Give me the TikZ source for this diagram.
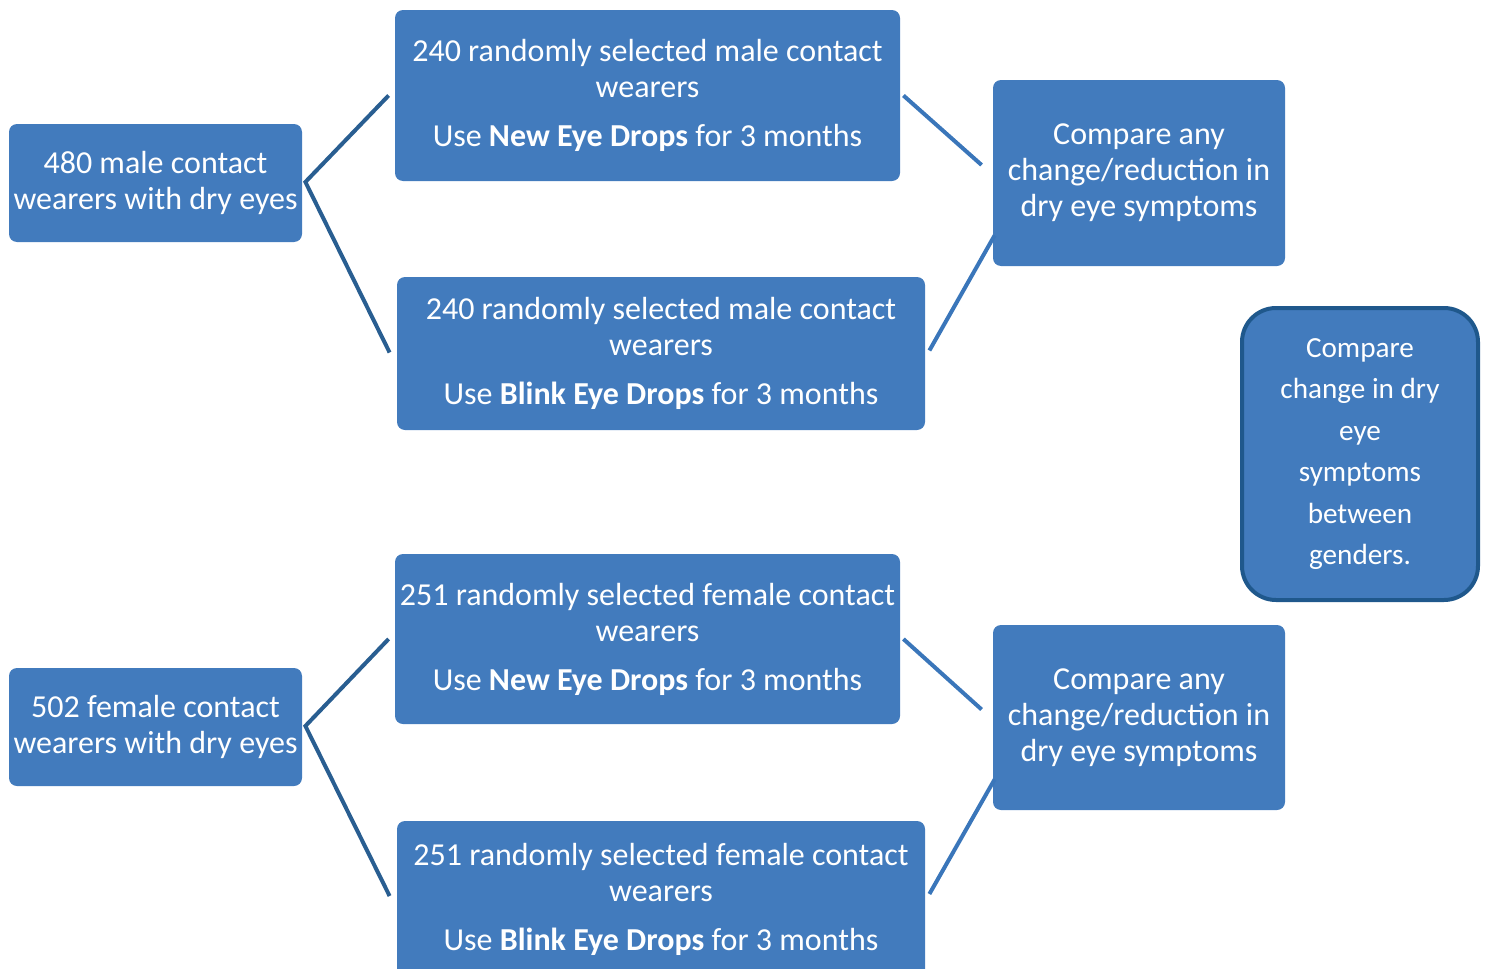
\documentclass[tikz,border=0pt]{standalone}
\usepackage{fontspec}
\setmainfont{Carlito}
\usetikzlibrary{calc}
\definecolor{boxblue}{RGB}{66,123,189}
\definecolor{linkdark}{RGB}{41,94,145}
\definecolor{linklight}{RGB}{58,118,186}
\definecolor{rimblue}{RGB}{31,88,140}
\begin{document}
\begin{tikzpicture}[x=0.5pt,y=-0.5pt,
    groupbox/.style={fill=boxblue, rounded corners=4pt, text=white, align=center, inner sep=0pt, font=\fontsize{16}{18}\selectfont},
    summarybox/.style={groupbox, draw=rimblue, line width=2pt, rounded corners=17pt, font=\fontsize{14.6}{20.7}\selectfont},
    linkleft/.style={draw=linkdark, line width=2pt},
    linkright/.style={draw=linklight, line width=2pt}]
	\useasboundingbox (0,0) rectangle (1485,969);
	
	%Shape: Rounded Rect -- male group
	\node [groupbox, minimum width=146.5pt, minimum height=59pt] (m0) at (155.5,183) {480 male contact\\wearers with dry eyes};
	\node [groupbox, minimum width=252.5pt, minimum height=85.5pt] (m1) at (647.5,95.5) {240 randomly selected male contact\\wearers\\[6.5pt]Use \textbf{New Eye Drops} for 3 months};
	\node [groupbox, minimum width=264pt, minimum height=76.5pt] (m2) at (661,353.5) {240 randomly selected male contact\\wearers\\[6.5pt]Use \textbf{Blink Eye Drops} for 3 months};
	\node [groupbox, minimum width=146pt, minimum height=93pt] (mc) at (1139,173) {Compare any\\change/reduction in\\dry eye symptoms};
	
	%Shape: Rounded Rect -- female group
	\node [groupbox, minimum width=146.5pt, minimum height=59pt] (f0) at (155.5,727) {502 female contact\\wearers with dry eyes};
	\node [groupbox, minimum width=252.5pt, minimum height=85pt] (f1) at (647.5,639) {251 randomly selected female contact\\wearers\\[6.5pt]Use \textbf{New Eye Drops} for 3 months};
	\node [groupbox, minimum width=264pt, minimum height=78pt] (f2) at (661,899) {251 randomly selected female contact\\wearers\\[6.5pt]Use \textbf{Blink Eye Drops} for 3 months};
	\node [groupbox, minimum width=146pt, minimum height=92.5pt] (fc) at (1139,717.5) {Compare any\\change/reduction in\\dry eye symptoms};
	
	%Shape: Rounded Rect -- between genders
	\node [summarybox, minimum width=118pt, minimum height=146pt] (g) at (1360,454) {Compare\\change in dry\\eye\\symptoms\\between\\genders.};
	
	%Straight Lines -- male
	\draw [linkleft] ($(m1.west)+(-6,0)$) -- ($(m0.east)+(3,-1)$) -- ($(m2.west)+(-7,-1)$) ;
	\draw [linkright] ($(m1.east)+(3,0)$) -- ($(mc.west)+(-11,-8)$) ;
	\draw [linkright] ($(m2.east)+(4,-3)$) -- ($(mc.south west)+(2,-31)$) ;
	%Straight Lines -- female
	\draw [linkleft] ($(f1.west)+(-6,0)$) -- ($(f0.east)+(3,-1)$) -- ($(f2.west)+(-7,-3)$) ;
	\draw [linkright] ($(f1.east)+(3,0)$) -- ($(fc.west)+(-11,-8)$) ;
	\draw [linkright] ($(f2.east)+(4,-5)$) -- ($(fc.south west)+(2,-31)$) ;
\end{tikzpicture}
\end{document}
